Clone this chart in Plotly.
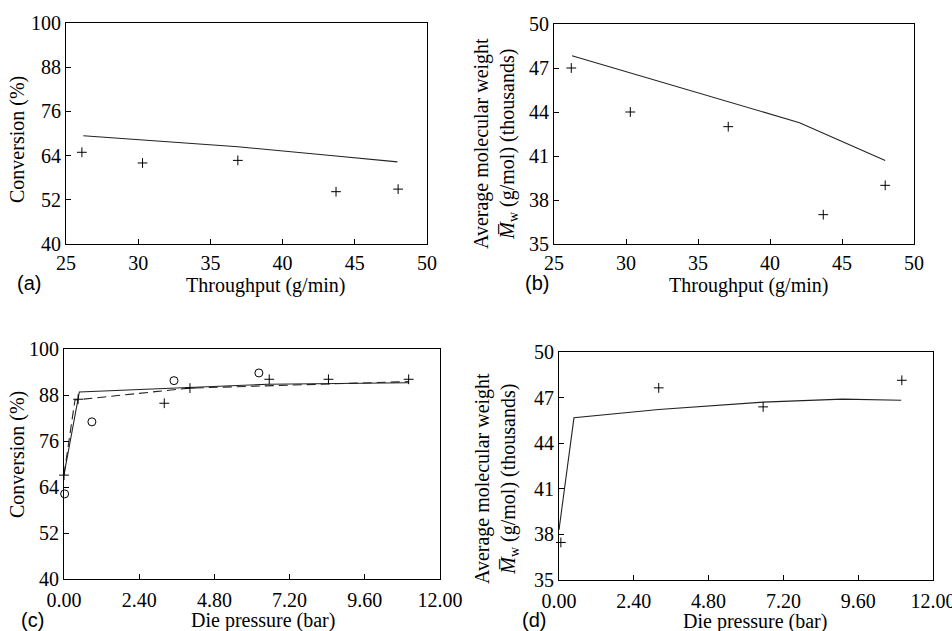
import plotly.graph_objects as go

# (a) conversion vs throughput
a_throughput = [26.1, 30.3, 36.9, 43.7, 48.0]
a_conversion = [64.9, 62.0, 62.7, 54.2, 54.9]
a_model_x = [26.2, 30.3, 36.9, 43.7, 47.95]
a_model_y = [69.4, 68.2, 66.4, 63.9, 62.3]

# (b) Mw vs throughput
b_throughput = [26.2, 30.3, 37.1, 43.7, 48.0]
b_mw = [47.0, 44.0, 43.0, 37.0, 39.0]
b_model_x = [26.25, 30.3, 37.1, 42.05, 48.0]
b_model_y = [47.84, 46.67, 44.7, 43.27, 40.7]

# (c) conversion vs die pressure
c_circle_p = [0.02, 0.89, 3.51, 6.22]
c_circle_conv = [62.2, 81.0, 91.75, 93.75]
c_cross_p = [0.0, 0.45, 3.2, 4.02, 6.55, 8.44, 11.0]
c_cross_conv = [67.1, 86.9, 85.85, 89.8, 92.1, 92.1, 92.1]
c_solid_p = [0.0, 0.49, 3.2, 6.5, 11.0]
c_solid_conv = [67.2, 88.8, 89.7, 90.8, 91.2]
c_dash_p = [0.0, 0.35, 4.02, 6.5, 11.0]
c_dash_conv = [67.2, 86.7, 89.8, 90.45, 91.5]

# (d) Mw vs die pressure
d_cross_p = [0.06, 3.2, 6.55, 11.0]
d_mw = [37.47, 47.64, 46.39, 48.14]
d_model_p = [0.0, 0.48, 3.2, 6.55, 9.09, 10.98]
d_model_mw = [38.3, 45.67, 46.22, 46.7, 46.9, 46.83]

conv_ticks = [40, 52, 64, 76, 88, 100]
mw_ticks = [35, 38, 41, 44, 47, 50]
tp_ticks = [25, 30, 35, 40, 45, 50]
p_ticks = [0, 2.4, 4.8, 7.2, 9.6, 12.0]

SERIF = "Liberation Serif, Times New Roman, DejaVu Serif, serif"
SANS = "Liberation Sans, Arial, sans-serif"
LINE = "#222222"

fig = go.Figure()


def cross(x, y, xa, ya):
    return go.Scatter(x=x, y=y, mode="markers", xaxis=xa, yaxis=ya, cliponaxis=False,
                      marker=dict(symbol="cross-thin", size=7, color="black",
                                  line=dict(width=1, color="black")),
                      showlegend=False)


def curve(x, y, xa, ya, dash="solid"):
    return go.Scatter(x=x, y=y, mode="lines", xaxis=xa, yaxis=ya, cliponaxis=False,
                      line=dict(color=LINE, width=1.1, dash=dash), showlegend=False)


fig.add_trace(curve(a_model_x, a_model_y, "x", "y"))
fig.add_trace(cross(a_throughput, a_conversion, "x", "y"))

fig.add_trace(curve(b_model_x, b_model_y, "x2", "y2"))
fig.add_trace(cross(b_throughput, b_mw, "x2", "y2"))

fig.add_trace(curve(c_solid_p, c_solid_conv, "x3", "y3"))
fig.add_trace(curve(c_dash_p, c_dash_conv, "x3", "y3", dash="9px,5px"))
fig.add_trace(cross(c_cross_p, c_cross_conv, "x3", "y3"))
fig.add_trace(go.Scatter(x=c_circle_p, y=c_circle_conv, mode="markers", xaxis="x3", yaxis="y3",
                         cliponaxis=False, showlegend=False,
                         marker=dict(symbol="circle-open", size=8, color="black",
                                     line=dict(width=1, color="black"))))

fig.add_trace(curve(d_model_p, d_model_mw, "x4", "y4"))
fig.add_trace(cross(d_cross_p, d_mw, "x4", "y4"))

W, H = 952, 631


def dom_x(l, r):
    return [l / W, r / W]


def dom_y(t, b):
    return [1 - b / H, 1 - t / H]


axis_common = dict(showline=True, linecolor="black", linewidth=1, mirror=True, automargin=False,
                   ticks="inside", ticklen=5, tickcolor="black", showgrid=False, zeroline=False,
                   ticklabeloverflow="allow",
                   tickfont=dict(family=SERIF, size=20, color="black"))

fig.update_layout(
    width=W, height=H,
    margin=dict(l=0, r=0, t=0, b=0),
    paper_bgcolor="white", plot_bgcolor="white",
    font=dict(family=SERIF, color="black"),
    xaxis=dict(domain=dom_x(66, 427), range=[25, 50], tickvals=tp_ticks, anchor="y",
               ticklabelstandoff=1, **axis_common),
    yaxis=dict(domain=dom_y(23, 244), range=[40, 100], tickvals=conv_ticks, anchor="x", **axis_common),
    xaxis2=dict(domain=dom_x(554, 914), range=[25, 50], tickvals=tp_ticks, anchor="y2",
                ticklabelstandoff=1, **axis_common),
    yaxis2=dict(domain=dom_y(24, 244), range=[35, 50], tickvals=mw_ticks, anchor="x2", **axis_common),
    xaxis3=dict(domain=dom_x(64, 440), range=[0, 12], tickvals=p_ticks, tickformat=".2f",
                anchor="y3", ticklabelstandoff=3, **axis_common),
    yaxis3=dict(domain=dom_y(349, 579), range=[40, 100], tickvals=conv_ticks, anchor="x3", **axis_common),
    xaxis4=dict(domain=dom_x(559, 933), range=[0, 12], tickvals=p_ticks, tickformat=".2f",
                anchor="y4", ticklabelstandoff=3, **axis_common),
    yaxis4=dict(domain=dom_y(352, 580), range=[35, 50], tickvals=mw_ticks, anchor="x4", **axis_common),
)

mw_title = "Average molecular weight<br><i>M\u0305</i><sub>w</sub> (g/mol) (thousands)"

labels = [
    # text, x px, y px, angle, font family
    ("Conversion (%)", 17, 140, -90, SERIF),
    ("Throughput (g/min)", 265, 285, 0, SERIF),
    ("(a)", 29, 283, 0, SANS),
    (mw_title, 496, 144, -90, SERIF),
    ("Throughput (g/min)", 748, 285, 0, SERIF),
    ("(b)", 537, 283, 0, SANS),
    ("Conversion (%)", 17, 455, -90, SERIF),
    ("Die pressure (bar)", 263, 620, 0, SERIF),
    ("(c)", 32, 620, 0, SANS),
    (mw_title, 496, 479, -90, SERIF),
    ("Die pressure (bar)", 755, 621, 0, SERIF),
    ("(d)", 534, 620, 0, SANS),
]
for text, px_x, px_y, ang, fam in labels:
    fig.add_annotation(text=text, x=px_x / W, y=1 - px_y / H, xref="paper", yref="paper",
                       showarrow=False, textangle=ang, xanchor="center", yanchor="middle",
                       font=dict(family=fam, size=20, color="black"))

# the page body has a default 8px margin; drop it so the figure sits at the window corner
fig.write_html("out.html", config={"displayModeBar": False},
               post_script="document.body.style.margin='0';")
